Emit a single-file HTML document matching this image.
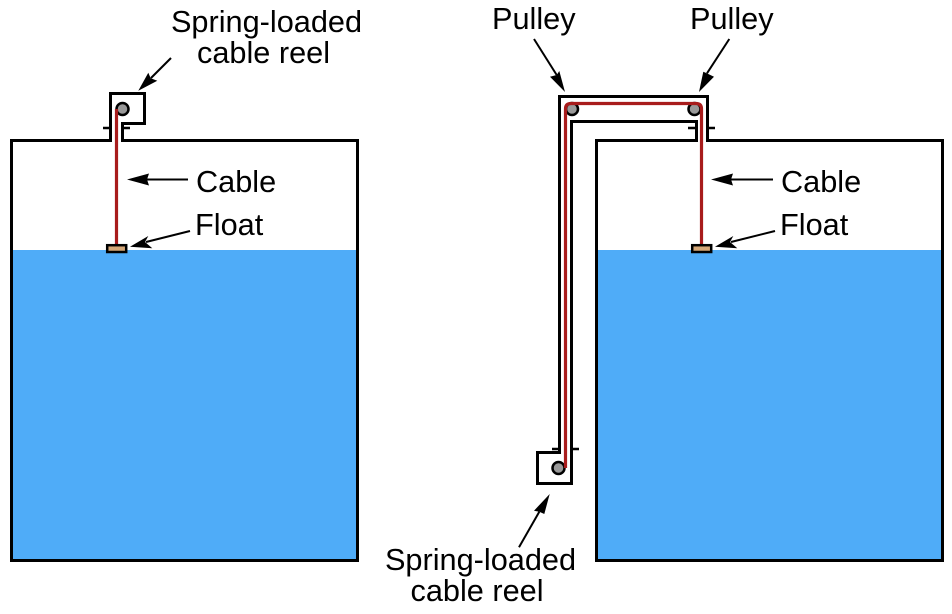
<!DOCTYPE html>
<html><head><meta charset="utf-8"><style>
html,body{margin:0;padding:0;background:#fff}
svg{display:block}
text{font-family:"Liberation Sans",sans-serif;font-size:30.7px;fill:#000}
</style></head><body>
<svg width="952" height="614" viewBox="0 0 952 614" xmlns="http://www.w3.org/2000/svg">
<rect width="952" height="614" fill="#fff"/>
<!-- water -->
<rect x="11" y="250" width="347" height="310" fill="#4facf8"/>
<rect x="596" y="250" width="347" height="310" fill="#4facf8"/>
<g fill="none" stroke="#000" stroke-width="3">
<!-- left tank -->
<path d="M110.5 140.5H11.5V560.5H357.5V140.5H122.5"/>
<path d="M110.5 142V93.5H144.5V123.5H122.5V142"/>
<path d="M103 128H110.5M122.5 128H130" stroke-width="2.5"/>
<!-- right tank -->
<path d="M696.5 140.5H596.5V560.5H942.5V140.5H707.5"/>
<path d="M707.5 142V96.5H559.5V452.5H537.5V483.5H571.5V121.5H696.5V142"/>
<path d="M688 128H696.5M707.5 128H715M552 449H559.5M571.5 449H579" stroke-width="2.5"/>
</g>
<!-- pulleys -->
<g fill="#999" stroke="#000" stroke-width="2.5">
<circle cx="122.5" cy="109" r="6"/>
<circle cx="572" cy="109" r="6"/>
<circle cx="694.5" cy="109" r="6"/>
<circle cx="558.5" cy="468" r="6"/>
</g>
<!-- cables -->
<g fill="none" stroke="#a81c1c" stroke-width="3.2">
<path d="M116.5 245V109"/>
<path d="M701.5 245V109Q701.5 103.5 696 103.5H571Q565.5 103.5 565.5 109V468"/>
</g>
<!-- floats -->
<rect x="107.2" y="245.2" width="19" height="6.8" fill="#d6a878" stroke="#000" stroke-width="2.5"/>
<rect x="692.2" y="245.2" width="19" height="6.8" fill="#d6a878" stroke="#000" stroke-width="2.5"/>
<!-- arrows -->
<g stroke="#000" stroke-width="2" fill="#000">
<path d="M171 58L151 78" fill="none"/><path d="M138.3 90.7L148.3 72.7L150.7 78.3L157.3 80.7Z" stroke="none"/>
<path d="M188 179.5H140" fill="none"/><path d="M127 179.5L149 173.5L147 179.5L149 185.5Z" stroke="none"/>
<path d="M190 231L146 242" fill="none"/><path d="M130 246.7L148.3 236L145 242L152.3 248.3Z" stroke="none"/>
<path d="M773 179.5H725" fill="none"/><path d="M711 179.5L733 173.5L731 179.5L733 185.5Z" stroke="none"/>
<path d="M775 231L731 242" fill="none"/><path d="M715 246.7L733.3 236L730 242L737.3 248.3Z" stroke="none"/>
<path d="M534 39L556.7 75" fill="none"/><path d="M565 92L550 76.7L556.7 75L559.3 71Z" stroke="none"/>
<path d="M729.3 39L707 73.3" fill="none"/><path d="M699 92L703.3 71.7L706.7 73.3L714 76.7Z" stroke="none"/>
<path d="M519 547.3L539.3 511.7" fill="none"/><path d="M549.7 494L544.3 514L539.3 511.7L534 510.7Z" stroke="none"/>
</g>
<!-- labels -->
<text x="266.5" y="32" text-anchor="middle">Spring-loaded</text>
<text x="263.5" y="63" text-anchor="middle">cable reel</text>
<text x="196" y="192">Cable</text>
<text x="195" y="235">Float</text>
<text x="492" y="29">Pulley</text>
<text x="690" y="29">Pulley</text>
<text x="781" y="192">Cable</text>
<text x="780" y="235">Float</text>
<text x="480.5" y="570" text-anchor="middle">Spring-loaded</text>
<text x="477" y="601" text-anchor="middle">cable reel</text>
</svg>
</body></html>
